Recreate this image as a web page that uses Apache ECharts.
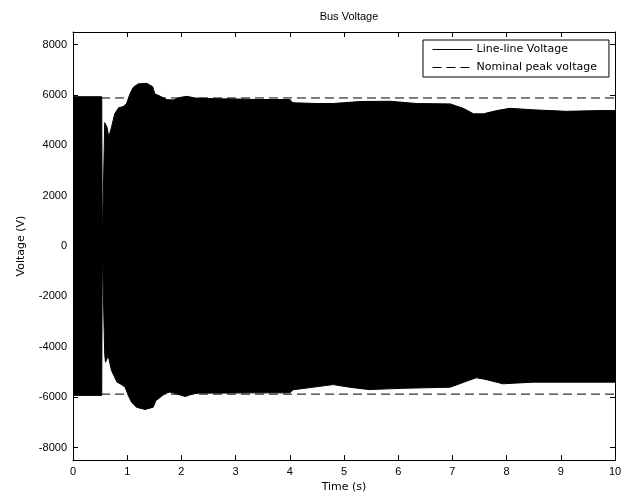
<!DOCTYPE html>
<html lang="en">
<head>
    <meta charset="UTF-8">
    <title>Bus Voltage</title>
    <script src="https://cdn.jsdelivr.net/npm/echarts@6/dist/echarts.min.js"></script>
</head>
<body style="margin:0;background:#fff;">
<div id="chart" style="width:631px;height:498px;"></div>
<script type="text/javascript">

    // envelope of the line-line voltage (time in s, volts)
    var upperT = [0, 0.53, 0.54, 0.575, 0.585, 0.6, 0.63, 0.66, 0.71, 0.77, 0.84, 0.93, 0.99, 1.05, 1.11, 1.2, 1.36, 1.47, 1.51, 1.56, 1.62, 1.73, 1.85, 1.97, 2.1, 2.25, 2.6, 3.0, 3.4, 4.0, 4.06, 4.5, 4.8, 5.3, 5.85, 6.34, 6.96, 7.2, 7.39, 7.57, 7.82, 8.06, 8.49, 9.1, 9.72, 10];
    var upperV = [5930, 5930, 0, 0, 4900, 4920, 4700, 4320, 4720, 5250, 5490, 5540, 5670, 6040, 6300, 6440, 6460, 6330, 6040, 6000, 5935, 5815, 5800, 5900, 5945, 5880, 5850, 5840, 5820, 5816, 5690, 5660, 5660, 5740, 5750, 5660, 5645, 5470, 5250, 5250, 5380, 5470, 5410, 5350, 5380, 5380];
    var lowerT = [0, 0.53, 0.54, 0.575, 0.585, 0.6, 0.65, 0.71, 0.81, 0.87, 0.96, 1.02, 1.08, 1.17, 1.33, 1.48, 1.53, 1.57, 1.69, 1.78, 1.91, 2.07, 2.21, 2.34, 2.8, 3.3, 4.0, 4.06, 4.8, 5.1, 5.46, 6.07, 6.96, 7.26, 7.44, 7.62, 7.93, 8.49, 9.1, 10];
    var lowerV = [-5930, -5930, 0, 0, -4300, -4610, -4350, -4940, -5400, -5470, -5600, -5935, -6200, -6400, -6490, -6400, -6130, -6070, -5870, -5800, -5870, -5975, -5870, -5840, -5840, -5830, -5830, -5710, -5500, -5605, -5700, -5650, -5605, -5370, -5230, -5300, -5470, -5405, -5405, -5405];
    var nominalPeak = 5880;
    var xTicks = [0, 1, 2, 3, 4, 5, 6, 7, 8, 9, 10];
    var yTicks = [-8000, -6000, -4000, -2000, 0, 2000, 4000, 6000, 8000];

    function pairs(ts, vs) {
        var out = [];
        for (var i = 0; i < ts.length; i++) {
            out.push([ts[i], vs[i]]);
        }
        return out;
    }

    var font = 'Liberation Sans';
    var wide = 'DejaVu Sans';
    var line = {onZero: false, lineStyle: {color: '#000', width: 1}};
    var plain = function (v) { return String(v); };

    function tickOf(list) {
        return {inside: true, length: 5, lineStyle: {color: '#000'}, customValues: list};
    }

    var option = {
        backgroundColor: '#fff',
        animation: false,
        textStyle: {fontFamily: font},
        title: {
            text: 'Bus Voltage',
            left: 344,
            top: 6,
            textAlign: 'center',
            textStyle: {fontFamily: font, fontSize: 11, fontWeight: 'normal', color: '#000'}
        },
        legend: {
            orient: 'vertical',
            left: 423,
            top: 40,
            padding: [4, 12, 4, 9],
            itemWidth: 40,
            itemHeight: 13,
            itemGap: 7,
            backgroundColor: '#fff',
            borderColor: '#000',
            borderWidth: 1,
            itemStyle: {opacity: 0},
            lineStyle: {width: 1},
            textStyle: {fontFamily: wide, fontSize: 11, color: '#000', padding: [0, 0, 0, -1]},
            data: ['Line-line Voltage', 'Nominal peak voltage']
        },
        grid: {left: 73, right: 16, top: 32, bottom: 36},
        xAxis: [{
            type: 'value',
            min: 0,
            max: 10,
            name: 'Time (s)',
            nameLocation: 'middle',
            nameGap: 21,
            nameTextStyle: {fontFamily: wide, fontSize: 11, color: '#000'},
            axisLine: line,
            axisTick: tickOf(xTicks),
            axisLabel: {fontSize: 11, color: '#000', margin: 6, customValues: xTicks, formatter: plain},
            splitLine: {show: false}
        }, {
            type: 'value',
            position: 'top',
            min: 0,
            max: 10,
            axisLine: line,
            axisTick: tickOf(xTicks),
            axisLabel: {show: false},
            splitLine: {show: false}
        }],
        yAxis: [{
            type: 'value',
            min: -8500,
            max: 8500,
            name: 'Voltage (V)',
            nameLocation: 'middle',
            nameGap: 46,
            nameTextStyle: {fontFamily: wide, fontSize: 11, color: '#000'},
            axisLine: line,
            axisTick: tickOf(yTicks),
            axisLabel: {fontSize: 11, color: '#000', margin: 6, customValues: yTicks, formatter: plain},
            splitLine: {show: false}
        }, {
            type: 'value',
            position: 'right',
            min: -8500,
            max: 8500,
            axisLine: line,
            axisTick: tickOf(yTicks),
            axisLabel: {show: false},
            splitLine: {show: false}
        }],
        series: [{
            name: 'Line-line Voltage',
            type: 'line',
            symbol: 'none',
            lineStyle: {color: '#000', width: 1},
            itemStyle: {color: '#000'},
            areaStyle: {color: '#000', opacity: 1, origin: 0},
            data: pairs(upperT, upperV)
        }, {
            name: 'Line-line Voltage',
            type: 'line',
            symbol: 'none',
            lineStyle: {color: '#000', width: 1},
            itemStyle: {color: '#000'},
            areaStyle: {color: '#000', opacity: 1, origin: 0},
            data: pairs(lowerT, lowerV)
        }, {
            name: 'Nominal peak voltage',
            type: 'line',
            symbol: 'none',
            lineStyle: {color: '#000', width: 1, type: [9, 5]},
            itemStyle: {color: '#000'},
            z: 3,
            data: [[0, nominalPeak], [10, nominalPeak]]
        }, {
            name: 'Nominal peak voltage',
            type: 'line',
            symbol: 'none',
            lineStyle: {color: '#000', width: 1, type: [9, 5]},
            itemStyle: {color: '#000'},
            z: 3,
            data: [[0, -nominalPeak], [10, -nominalPeak]]
        }]
    };

    var chart = echarts.init(document.getElementById('chart'));
    chart.setOption(option);
</script>
</body>
</html>
